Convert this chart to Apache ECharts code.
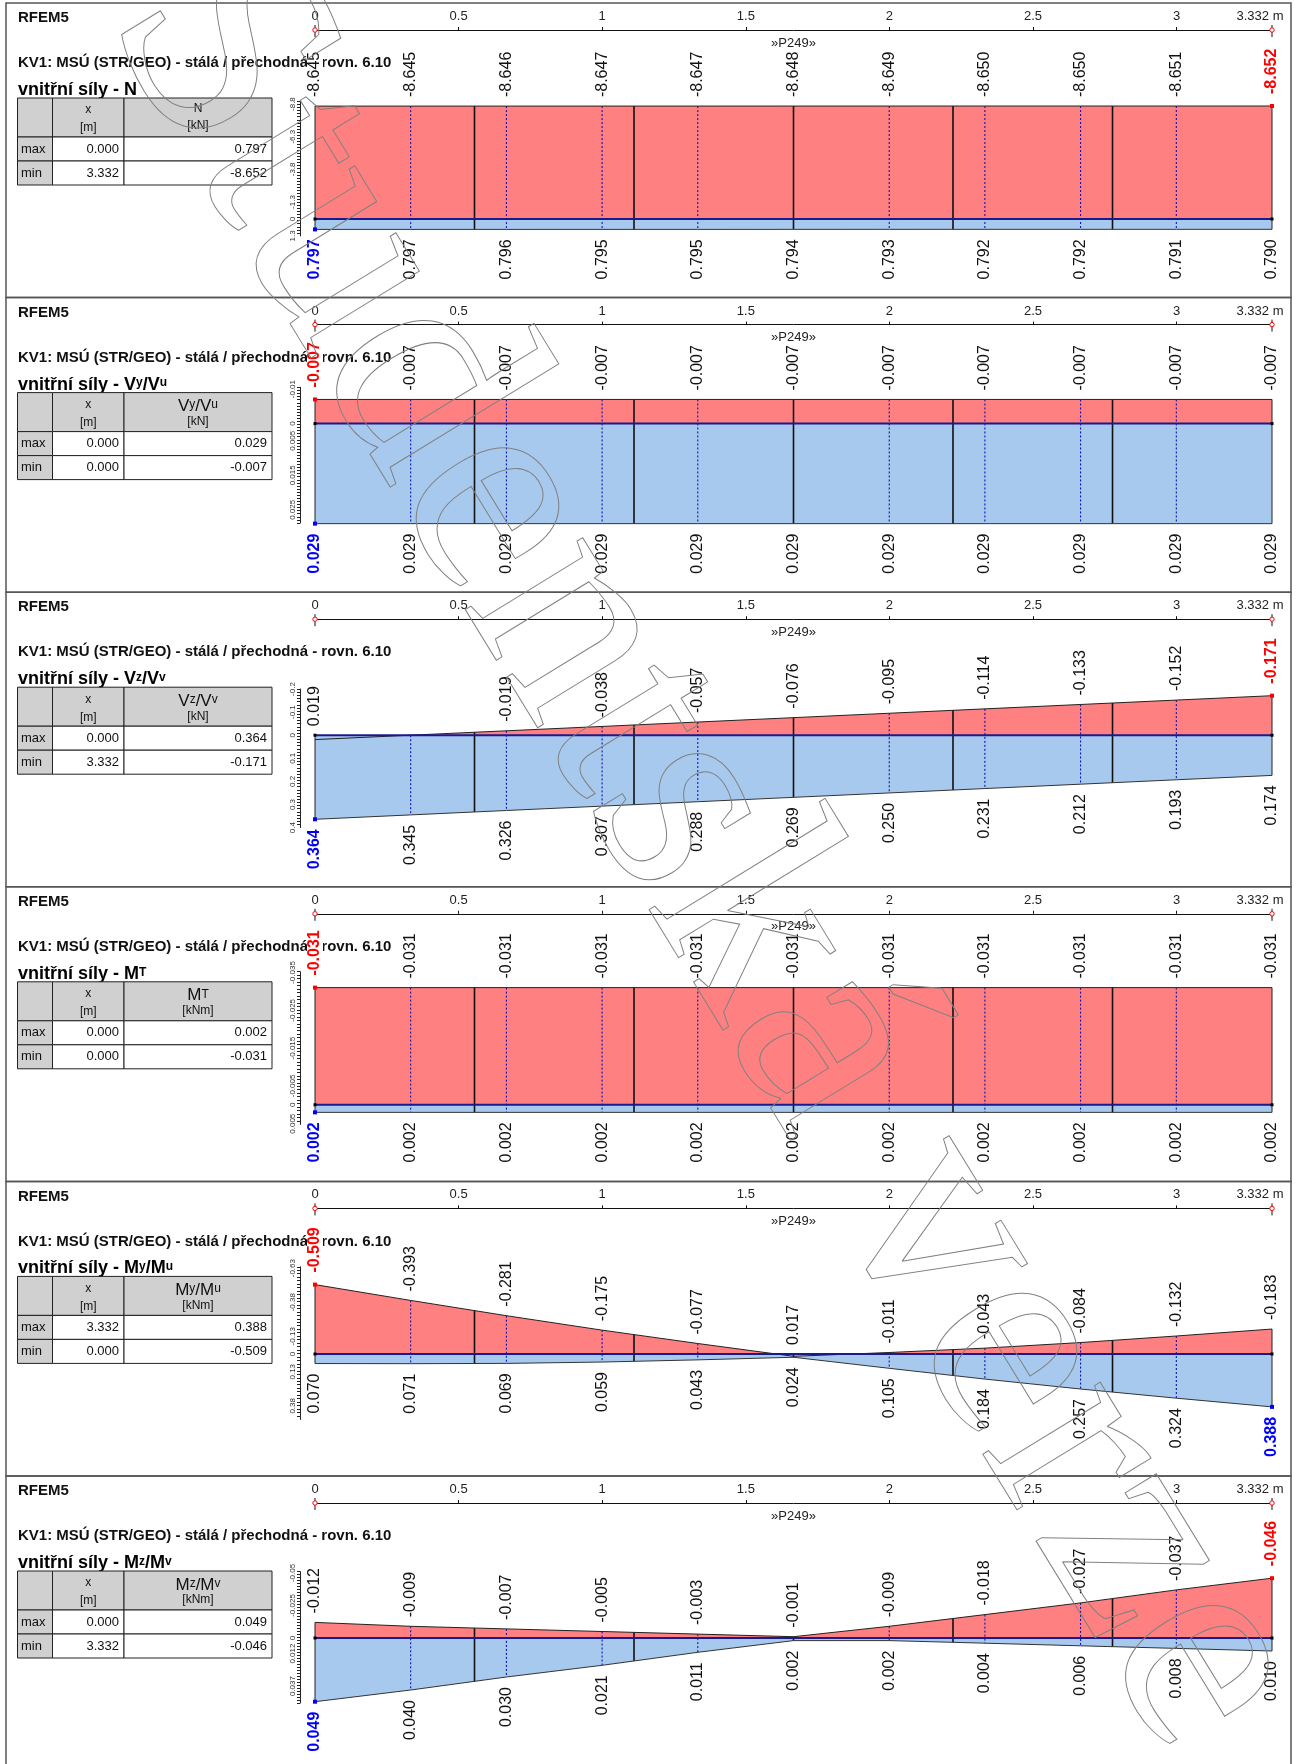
<!DOCTYPE html>
<html>
<head>
<meta charset="utf-8">
<script src="https://cdn.jsdelivr.net/npm/echarts@6/dist/echarts.min.js"></script>
<style>
  html, body { margin: 0; padding: 0; background: #fff; }
  #c { width: 1298px; height: 1764px; }
</style>
</head>
<body>
<div id="c"></div>
<script>
// Member P249, length 3.332 m: result stations every 1/10 of the length
const stations = [0, 0.3332, 0.6664, 0.9996, 1.3328, 1.666, 1.9992, 2.3324, 2.6656, 2.9988, 3.332];
// FE division points of the member (6 elements)
const elementNodes = [0.5553, 1.1107, 1.666, 2.2213, 2.7767];
const memberLength = 3.332;
const rulerLabels = [0, 0.5, 1, 1.5, 2, 2.5, 3, 3.332];
const rulerTicks = [0.5, 1, 1.5, 2, 2.5, 3];

// Internal forces, min / max envelope at the stations
const nMin  = [-8.645, -8.645, -8.646, -8.647, -8.647, -8.648, -8.649, -8.650, -8.650, -8.651, -8.652];
const nMax  = [0.797, 0.797, 0.796, 0.795, 0.795, 0.794, 0.793, 0.792, 0.792, 0.791, 0.790];
const vyMin = [-0.007, -0.007, -0.007, -0.007, -0.007, -0.007, -0.007, -0.007, -0.007, -0.007, -0.007];
const vyMax = [0.029, 0.029, 0.029, 0.029, 0.029, 0.029, 0.029, 0.029, 0.029, 0.029, 0.029];
const vzMin = [0.019, 0.000, -0.019, -0.038, -0.057, -0.076, -0.095, -0.114, -0.133, -0.152, -0.171];
const vzMax = [0.364, 0.345, 0.326, 0.307, 0.288, 0.269, 0.250, 0.231, 0.212, 0.193, 0.174];
const mtMin = [-0.031, -0.031, -0.031, -0.031, -0.031, -0.031, -0.031, -0.031, -0.031, -0.031, -0.031];
const mtMax = [0.002, 0.002, 0.002, 0.002, 0.002, 0.002, 0.002, 0.002, 0.002, 0.002, 0.002];
const myMin = [-0.509, -0.393, -0.281, -0.175, -0.077, 0.017, -0.011, -0.043, -0.084, -0.132, -0.183];
const myMax = [0.070, 0.071, 0.069, 0.059, 0.043, 0.024, 0.105, 0.184, 0.257, 0.324, 0.388];
const mzMin = [-0.012, -0.009, -0.007, -0.005, -0.003, -0.001, -0.009, -0.018, -0.027, -0.037, -0.046];
const mzMax = [0.049, 0.040, 0.030, 0.021, 0.011, 0.002, 0.002, 0.004, 0.006, 0.008, 0.010];

// Scale labels of the small vertical rulers
const nScale  = [-8.8, -6.3, -3.8, -1.3, 0, 1.3];
const vyScale = [-0.01, 0, 0.005, 0.015, 0.025];
const vzScale = [-0.2, -0.1, 0, 0.1, 0.2, 0.3, 0.4];
const mtScale = [-0.035, -0.025, -0.015, -0.005, 0, 0.005];
const myScale = [-0.63, -0.38, -0.13, 0, 0.13, 0.38];
const mzScale = [-0.05, -0.025, 0, 0.012, 0.037];

const caseTitle = 'KV1: MSÚ (STR/GEO) - stálá / přechodná - rovn. 6.10';
const memberTag = '»P249»';

const panels = [
  { heading: '{h|vnitřní síly - N}', head: '{cn|N}', unit: '[kN]', min: nMin, max: nMax, scale: nScale, big: false },
  { heading: '{h|vnitřní síly - V}{hs|y}{h|/V}{hs|u}', head: '{c|V}{cs|y}{c|/V}{cs|u}', unit: '[kN]', min: vyMin, max: vyMax, scale: vyScale, big: true },
  { heading: '{h|vnitřní síly - V}{hs|z}{h|/V}{hs|v}', head: '{c|V}{cs|z}{c|/V}{cs|v}', unit: '[kN]', min: vzMin, max: vzMax, scale: vzScale, big: true },
  { heading: '{h|vnitřní síly - M}{hs|T}', head: '{c|M}{cs|T}', unit: '[kNm]', min: mtMin, max: mtMax, scale: mtScale, big: true },
  { heading: '{h|vnitřní síly - M}{hs|y}{h|/M}{hs|u}', head: '{c|M}{cs|y}{c|/M}{cs|u}', unit: '[kNm]', min: myMin, max: myMax, scale: myScale, big: true },
  { heading: '{h|vnitřní síly - M}{hs|z}{h|/M}{hs|v}', head: '{c|M}{cs|z}{c|/M}{cs|v}', unit: '[kNm]', min: mzMin, max: mzMax, scale: mzScale, big: true }
];

// Page layout of each diagram: zero line offset from the panel top, px per unit, ruler range
const layout = [
  { zero: 216,   ppu: 13.06, lo: -9.0,    hi: 1.3 },
  { zero: 126,   ppu: 3450,  lo: -0.0105, hi: 0.0288 },
  { zero: 143,   ppu: 231,   lo: -0.2,    hi: 0.4 },
  { zero: 218,   ppu: 3780,  lo: -0.0352, hi: 0.0052 },
  { zero: 172.6, ppu: 136.3, lo: -0.64,   hi: 0.48 },
  { zero: 162,   ppu: 1300,  lo: -0.051,  hi: 0.05 }
];

const W = 1298;
const PANEL_Y0 = 3, PANEL_H = 294.6;
const X0 = 315, X1 = 1272;
const FONT = '"Liberation Sans", Arial, sans-serif';
const RED_FILL = '#ff8080', BLUE_FILL = '#a7c9ee';

function argExt(arr, cmp) {
  let k = 0;
  for (let i = 1; i < arr.length; i++) if (cmp(arr[i], arr[k])) k = i;
  return k;
}
function envelopeAt(arr, x) {
  for (let i = 0; i < stations.length - 1; i++) {
    if (x >= stations[i] && x <= stations[i + 1]) {
      const t = (x - stations[i]) / (stations[i + 1] - stations[i]);
      return arr[i] + t * (arr[i + 1] - arr[i]);
    }
  }
  return arr[arr.length - 1];
}

const grids = [], xAxes = [], yAxes = [], series = [], graphics = [];

panels.forEach((p, k) => {
  const T = PANEL_Y0 + k * PANEL_H;
  const L = layout[k];
  const gMain = 2 * k, gRuler = 2 * k + 1;
  const iMin = argExt(p.min, (a, b) => a < b);
  const iMax = argExt(p.max, (a, b) => a > b);

  grids.push({ left: X0, right: W - X1, top: T + L.zero + L.lo * L.ppu, height: (L.hi - L.lo) * L.ppu });
  grids.push({ left: X0, right: W - X1, top: T + 25, height: 4 });

  // diagram axes
  const tickVals = [];
  for (let i = 0; i <= 44; i++) tickVals.push(L.lo + (L.hi - L.lo) * i / 44);
  xAxes.push({ gridIndex: gMain, type: 'value', min: 0, max: memberLength, show: false });
  yAxes.push({
    gridIndex: gMain, type: 'value', min: L.lo, max: L.hi, inverse: true, position: 'left', offset: 15,
    axisLine: { show: true, onZero: false, lineStyle: { color: '#222', width: 1 } },
    axisTick: { show: true, customValues: tickVals, length: 3, inside: false, lineStyle: { color: '#222', width: 1 } },
    axisLabel: { customValues: p.scale, rotate: 90, fontSize: 8, fontFamily: FONT, color: '#333', margin: 3,
                 formatter: v => String(v) },
    splitLine: { show: false }
  });

  // ruler along the member
  xAxes.push({
    gridIndex: gRuler, type: 'value', min: 0, max: memberLength, position: 'top',
    axisLine: { onZero: true, lineStyle: { color: '#111', width: 1 } },
    axisTick: { show: true, customValues: rulerTicks, length: 3, inside: false, lineStyle: { color: '#111' } },
    axisLabel: {
      customValues: rulerLabels, fontSize: 13, fontFamily: FONT, color: '#222', margin: 5,
      formatter: v => (Math.abs(v - memberLength) < 1e-9 ? '{e|3.332 m}' : String(v)),
      rich: { e: { fontSize: 13, fontFamily: FONT, color: '#222', padding: [0, 24, 0, 0] } }
    },
    splitLine: { show: false }
  });
  yAxes.push({ gridIndex: gRuler, type: 'value', min: -1, max: 1, show: false });

  // ruler end marks and member tag
  series.push({
    type: 'custom', xAxisIndex: gRuler, yAxisIndex: gRuler, data: [0], clip: false, z: 4, silent: true,
    renderItem: (params, api) => {
      const a = api.coord([0, 0]), b = api.coord([memberLength, 0]), m = api.coord([memberLength / 2, 0]);
      const kids = [];
      [a, b].forEach(pt => {
        kids.push({ type: 'line', shape: { x1: pt[0], y1: pt[1] - 5, x2: pt[0], y2: pt[1] + 7 }, style: { stroke: '#111', lineWidth: 1 } });
        kids.push({ type: 'circle', shape: { cx: pt[0], cy: pt[1], r: 2.2 }, style: { fill: '#fff', stroke: '#f00', lineWidth: 1 } });
      });
      kids.push({ type: 'text', x: m[0], y: m[1] + 13, style: { text: memberTag, font: '13px ' + FONT, fill: '#222', align: 'center', verticalAlign: 'middle' } });
      return { type: 'group', children: kids };
    }
  });

  // the min / max diagram
  series.push({
    type: 'custom', xAxisIndex: gMain, yAxisIndex: gMain, data: [0], clip: false, z: 5, silent: true,
    renderItem: (params, api) => {
      const c = (x, v) => api.coord([x, v]);
      const minPts = stations.map((s, i) => c(s, p.min[i]));
      const maxPts = stations.map((s, i) => c(s, p.max[i]));
      const z0 = c(0, 0), z1 = c(memberLength, 0);
      const yZ = z0[1];
      const kids = [];
      kids.push({ type: 'polygon', shape: { points: [z0].concat(minPts, [z1]) }, style: { fill: RED_FILL } });
      kids.push({ type: 'polygon', shape: { points: [z0].concat(maxPts, [z1]) }, style: { fill: BLUE_FILL } });
      // station lines
      for (let i = 1; i < stations.length - 1; i++) {
        const x = minPts[i][0];
        const y1 = Math.min(minPts[i][1], maxPts[i][1], yZ), y2 = Math.max(minPts[i][1], maxPts[i][1], yZ);
        kids.push({ type: 'line', shape: { x1: x, y1: y1, x2: x, y2: y2 }, style: { stroke: '#0000b4', lineWidth: 1, lineDash: [2, 2] } });
      }
      // element boundaries
      elementNodes.forEach(xn => {
        const ya = c(xn, envelopeAt(p.min, xn))[1], yb = c(xn, envelopeAt(p.max, xn))[1];
        const x = c(xn, 0)[0];
        kids.push({ type: 'line', shape: { x1: x, y1: Math.min(ya, yb, yZ), x2: x, y2: Math.max(ya, yb, yZ) }, style: { stroke: '#111', lineWidth: 1.6 } });
      });
      // member ends
      [0, stations.length - 1].forEach(i => {
        const x = minPts[i][0];
        kids.push({ type: 'line', shape: { x1: x, y1: Math.min(minPts[i][1], maxPts[i][1], yZ), x2: x, y2: Math.max(minPts[i][1], maxPts[i][1], yZ) }, style: { stroke: '#222', lineWidth: 1 } });
      });
      // envelope outlines
      kids.push({ type: 'polyline', shape: { points: minPts }, style: { stroke: '#222', lineWidth: 1, fill: null } });
      kids.push({ type: 'polyline', shape: { points: maxPts }, style: { stroke: '#333', lineWidth: 1, fill: null } });
      // member axis
      kids.push({ type: 'line', shape: { x1: z0[0], y1: yZ, x2: z1[0], y2: yZ }, style: { stroke: '#1a1a8c', lineWidth: 2 } });
      // node marks
      [z0, z1].forEach(pt => kids.push({ type: 'rect', shape: { x: pt[0] - 1.5, y: pt[1] - 1.5, width: 3, height: 3 }, style: { fill: '#000' } }));
      kids.push({ type: 'rect', shape: { x: minPts[iMin][0] - 2, y: minPts[iMin][1] - 2, width: 4, height: 4 }, style: { fill: '#ff0000' } });
      kids.push({ type: 'rect', shape: { x: maxPts[iMax][0] - 2, y: maxPts[iMax][1] - 2, width: 4, height: 4 }, style: { fill: '#0000ff' } });
      // value labels
      stations.forEach((s, i) => {
        const vmin = p.min[i], vmax = p.max[i];
        if (vmin !== 0) {
          const ext = i === iMin;
          kids.push({
            type: 'text', x: minPts[i][0], y: Math.min(minPts[i][1], yZ) - (ext ? 11 : 8), rotation: Math.PI / 2,
            style: { text: vmin.toFixed(3), font: (ext ? 'bold ' : '') + '16px ' + FONT, fill: ext ? '#ff0000' : '#111',
                     align: 'left', verticalAlign: 'middle', backgroundColor: '#fff', padding: [0, 1] }
          });
        }
        if (vmax !== 0) {
          const ext = i === iMax;
          kids.push({
            type: 'text', x: maxPts[i][0], y: Math.max(maxPts[i][1], yZ) + 9, rotation: Math.PI / 2,
            style: { text: vmax.toFixed(3), font: (ext ? 'bold ' : '') + '16px ' + FONT, fill: ext ? '#0000ff' : '#111',
                     align: 'right', verticalAlign: 'middle', backgroundColor: '#fff', padding: [0, 1] }
          });
        }
      });
      return { type: 'group', children: kids };
    }
  });

  // panel frame, titles and result table
  graphics.push({ type: 'rect', z: 1, shape: { x: 6, y: T, width: 1285, height: PANEL_H }, style: { fill: null, stroke: '#555', lineWidth: 1.5 } });
  graphics.push({ type: 'text', z: 1, x: 18, y: T + 15, style: { text: 'RFEM5', font: 'bold 15px ' + FONT, fill: '#111', verticalAlign: 'middle' } });
  graphics.push({ type: 'text', z: 1, x: 18, y: T + 60, style: { text: caseTitle, font: 'bold 15px ' + FONT, fill: '#111', verticalAlign: 'middle' } });
  graphics.push({
    type: 'text', z: 1, x: 18, y: T + 87,
    style: { text: p.heading, verticalAlign: 'middle',
             rich: { h: { font: 'bold 18px ' + FONT, fill: '#000' }, hs: { font: 'bold 12px ' + FONT, fill: '#000', verticalAlign: 'middle', padding: [0, 0, 3, 0] } } }
  });

  const cx = [17.5, 52.5, 124, 272];
  const ry = [T + 95, T + 134, T + 158, T + 182];
  const cell = (x0, y0, x1, y1, fill) => graphics.push({ type: 'rect', z: 1, shape: { x: x0, y: y0, width: x1 - x0, height: y1 - y0 }, style: { fill: fill, stroke: '#222', lineWidth: 1 } });
  cell(cx[0], ry[0], cx[1], ry[1], '#d0d0d0');
  cell(cx[1], ry[0], cx[2], ry[1], '#d0d0d0');
  cell(cx[2], ry[0], cx[3], ry[1], '#d0d0d0');
  for (let r = 1; r < 3; r++) {
    cell(cx[0], ry[r], cx[1], ry[r + 1], '#d0d0d0');
    cell(cx[1], ry[r], cx[2], ry[r + 1], '#fff');
    cell(cx[2], ry[r], cx[3], ry[r + 1], '#fff');
  }
  const txt = (x, y, s, font, align) => graphics.push({ type: 'text', z: 2, x: x, y: y, style: { text: s, font: font, fill: '#111', align: align, verticalAlign: 'middle' } });
  txt((cx[1] + cx[2]) / 2, T + 107, 'x', '12px ' + FONT, 'center');
  txt((cx[1] + cx[2]) / 2, T + 125, '[m]', '12px ' + FONT, 'center');
  graphics.push({
    type: 'text', z: 2, x: (cx[2] + cx[3]) / 2, y: p.big ? T + 109 : T + 106,
    style: { text: p.head, align: 'center', verticalAlign: 'middle',
             rich: { cn: { font: '12px ' + FONT, fill: '#111' }, c: { font: '17px ' + FONT, fill: '#111' },
                     cs: { font: '12px ' + FONT, fill: '#111', verticalAlign: 'middle', padding: [0, 0, 3, 0] } } }
  });
  txt((cx[2] + cx[3]) / 2, p.big ? T + 124 : T + 123, p.unit, '12px ' + FONT, 'center');
  txt(21, T + 146, 'max', '13px ' + FONT, 'left');
  txt(21, T + 170, 'min', '13px ' + FONT, 'left');
  txt(cx[2] - 5, T + 146, stations[iMax].toFixed(3), '13px ' + FONT, 'right');
  txt(cx[3] - 5, T + 146, p.max[iMax].toFixed(3), '13px ' + FONT, 'right');
  txt(cx[2] - 5, T + 170, stations[iMin].toFixed(3), '13px ' + FONT, 'right');
  txt(cx[3] - 5, T + 170, p.min[iMin].toFixed(3), '13px ' + FONT, 'right');
});

// licence watermark across the sheet
graphics.push({
  type: 'text', z: 100, silent: true, x: 705, y: 850, rotation: -58.5 * Math.PI / 180,
  style: { text: 'Studentská verze', font: '300px "Liberation Serif", serif', fill: 'rgba(0,0,0,0)', stroke: '#808080', lineWidth: 1,
           align: 'center', verticalAlign: 'middle' }
});

const chart = echarts.init(document.getElementById('c'), null, { renderer: 'canvas', width: 1298, height: 1764 });
chart.setOption({
  animation: false,
  backgroundColor: '#fff',
  grid: grids,
  xAxis: xAxes,
  yAxis: yAxes,
  series: series,
  graphic: { elements: graphics }
});
</script>
</body>
</html>
